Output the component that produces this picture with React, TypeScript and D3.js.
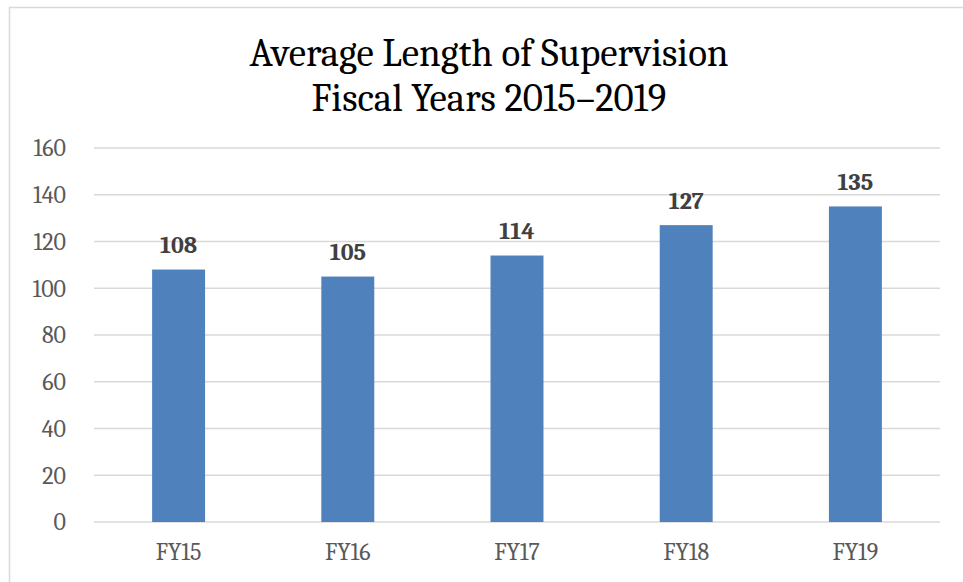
import { useRef, useEffect } from 'react';
import * as d3 from 'd3';

const categories = ['FY15', 'FY16', 'FY17', 'FY18', 'FY19'];
const values = [108, 105, 114, 127, 135];
const yTicks = [0, 20, 40, 60, 80, 100, 120, 140, 160];
const titleLines = ['Average Length of Supervision', 'Fiscal Years 2015\u20132019'];

const App = () => {
    const ref = useRef<SVGSVGElement>(null);

    useEffect(() => {
        const width = 963;
        const height = 582;
        const margin = { top: 148, right: 23, bottom: 60, left: 94 };
        const font = "Cambria, 'Liberation Serif', serif";

        const svg = d3.select(ref.current);
        svg.selectAll('*').remove();
        svg.attr('width', width).attr('height', height).attr('viewBox', [0, 0, width, height]);

        // chart frame
        svg.append('rect')
            .attr('x', 9.5).attr('y', 7.5)
            .attr('width', width + 20).attr('height', height + 20)
            .attr('fill', '#fff')
            .attr('stroke', '#d9d9d9')
            .attr('stroke-width', 1.5);

        const x = d3.scaleBand()
            .domain(categories)
            .range([margin.left, width - margin.right])
            .paddingInner(0.687)
            .paddingOuter(0.3435);

        const y = d3.scaleLinear()
            .domain([0, 160])
            .range([height - margin.bottom, margin.top]);

        // grid
        svg.append('g')
            .selectAll('line')
            .data(yTicks)
            .enter().append('line')
            .attr('x1', margin.left)
            .attr('x2', width - margin.right)
            .attr('y1', (d: number) => y(d))
            .attr('y2', (d: number) => y(d))
            .attr('stroke', '#d9d9d9')
            .attr('stroke-width', 1.5);

        // y labels
        svg.append('g')
            .selectAll('text')
            .data(yTicks)
            .enter().append('text')
            .attr('x', 66)
            .attr('y', (d: number) => y(d))
            .attr('dy', '0.35em')
            .attr('text-anchor', 'end')
            .attr('font-family', font)
            .attr('font-size', 24)
            .attr('fill', '#595959')
            .text((d: number) => d);

        // x labels
        svg.append('g')
            .selectAll('text')
            .data(categories)
            .enter().append('text')
            .attr('x', (d: string) => (x(d) ?? 0) + x.bandwidth() / 2)
            .attr('y', y(0) + 30)
            .attr('dy', '0.35em')
            .attr('text-anchor', 'middle')
            .attr('font-family', font)
            .attr('font-size', 24)
            .attr('fill', '#595959')
            .text((d: string) => d);

        const data = categories.map((c, i) => ({ c, v: values[i] }));

        // bars
        svg.append('g')
            .selectAll('rect')
            .data(data)
            .enter().append('rect')
            .attr('x', (d: any) => x(d.c) ?? 0)
            .attr('y', (d: any) => y(d.v))
            .attr('width', x.bandwidth())
            .attr('height', (d: any) => y(0) - y(d.v))
            .attr('fill', '#4f81bd');

        // value labels
        svg.append('g')
            .selectAll('text')
            .data(data)
            .enter().append('text')
            .attr('x', (d: any) => (x(d.c) ?? 0) + x.bandwidth() / 2)
            .attr('y', (d: any) => y(d.v) - 25)
            .attr('dy', '0.35em')
            .attr('text-anchor', 'middle')
            .attr('font-family', font)
            .attr('font-size', 24)
            .attr('font-weight', 'bold')
            .attr('fill', '#404040')
            .text((d: any) => d.v);

        // title
        svg.append('g')
            .selectAll('text')
            .data(titleLines)
            .enter().append('text')
            .attr('x', 489)
            .attr('y', (_d: string, i: number) => 52 + i * 45)
            .attr('dy', '0.35em')
            .attr('text-anchor', 'middle')
            .attr('font-family', font)
            .attr('font-size', 39)
            .attr('fill', '#000')
            .text((d: string) => d);
    }, []);

    return (
        <div style={{ position: 'absolute', left: 0, top: 0 }}>
            <svg ref={ref} style={{ display: 'block' }}></svg>
        </div>
    );
};

export default App;
